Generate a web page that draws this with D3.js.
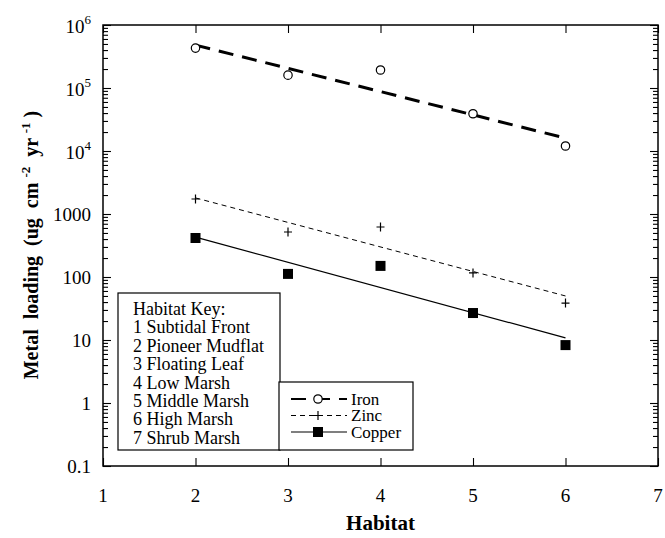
<!DOCTYPE html>
<html>
<head>
<meta charset="utf-8">
<script src="https://cdn.jsdelivr.net/npm/d3@7"></script>
<style>
  body { margin: 0; background: #fff; }
  svg { display: block; }
  text { font-family: "Liberation Serif", "Times New Roman", serif; fill: #000; white-space: pre; }
</style>
</head>
<body>
<svg id="chart" width="665" height="538"></svg>
<script>
// ---------------- data ----------------
const habitats = [2, 3, 4, 5, 6];
const iron   = [430000, 160000, 193000, 39000, 12000];
const zinc   = [1730, 518, 622, 116, 38.6];
const copper = [416, 112, 150, 26.8, 8.3];
// regression lines (endpoints at habitat 2 and 6)
const fitX      = [2, 6];
const ironFit   = [480000, 16000];
const zincFit   = [1800, 50];
const copperFit = [430, 10.8];

const xTickValues = [1, 2, 3, 4, 5, 6, 7];
const xTickLabels = ["1", "2", "3", "4", "5", "6", "7"];
const yTickValues = [0.1, 1, 10, 100, 1000, 1e4, 1e5, 1e6];
const yTickLabels = ["0.1", "1", "10", "100", "1000", "10^4", "10^5", "10^6"];

const keyLines = ["Habitat Key:", "1 Subtidal Front", "2 Pioneer Mudflat", "3 Floating Leaf",
                  "4 Low Marsh", "5 Middle Marsh", "6 High Marsh", "7 Shrub Marsh"];
const seriesNames = ["Iron", "Zinc", "Copper"];

// ---------------- layout ----------------
const L = 103, R = 658, T = 25, B = 466;
const svg = d3.select("#chart");
const x = d3.scaleLinear().domain([1, 7]).range([L, R]);
const y = d3.scaleLog().domain([0.1, 1e6]).range([B, T]);

// minor tick values
const minor = [];
for (let e = -1; e < 6; e++) for (let m = 2; m <= 9; m++) minor.push(m * Math.pow(10, e));

// axes (ticks inward)
const gL = svg.append("g").attr("transform", `translate(${L},0)`);
gL.call(d3.axisLeft(y).tickValues(yTickValues).tickSize(-8).tickFormat(""));
gL.append("g").call(d3.axisLeft(y).tickValues(minor).tickSize(-5).tickFormat(""));
const gR = svg.append("g").attr("transform", `translate(${R},0)`);
gR.call(d3.axisRight(y).tickValues(yTickValues).tickSize(-8).tickFormat(""));
gR.append("g").call(d3.axisRight(y).tickValues(minor).tickSize(-5).tickFormat(""));
const gB = svg.append("g").attr("transform", `translate(0,${B})`);
gB.call(d3.axisBottom(x).tickValues(xTickValues).tickSize(-8).tickFormat(""));
const gT = svg.append("g").attr("transform", `translate(0,${T})`);
gT.call(d3.axisTop(x).tickValues(xTickValues).tickSize(-8).tickFormat(""));
svg.selectAll(".domain").remove();
svg.selectAll(".tick line").attr("stroke", "#000").attr("stroke-width", 1.1);

// frame
svg.append("rect").attr("x", L).attr("y", T).attr("width", R - L).attr("height", B - T)
  .attr("fill", "none").attr("stroke", "#000").attr("stroke-width", 1.5);

// y tick labels
yTickValues.forEach((v, i) => {
  const lab = yTickLabels[i];
  const t = svg.append("text").attr("x", 91).attr("text-anchor", "end").attr("font-size", 19);
  if (lab.includes("^")) {
    const [base, exp] = lab.split("^");
    t.attr("y", y(v) + 8);
    t.append("tspan").text(base);
    t.append("tspan").attr("font-size", 13).attr("dy", -9).text(exp);
  } else {
    t.attr("y", y(v) + 7).text(lab);
  }
});

// x tick labels
xTickValues.forEach((v, i) => {
  svg.append("text").attr("x", x(v)).attr("y", 502).attr("text-anchor", "middle")
    .attr("font-size", 19).text(xTickLabels[i]);
});

// axis titles
svg.append("text").attr("x", x(4)).attr("y", 530).attr("text-anchor", "middle")
  .attr("font-size", 21).attr("font-weight", "bold").text("Habitat");

const yl = svg.append("text").attr("transform", "translate(38,245) rotate(-90)")
  .attr("text-anchor", "middle").attr("font-size", 20).attr("font-weight", "bold");
yl.append("tspan").text("Metal  loading  (ug  cm ");
yl.append("tspan").attr("font-size", 13).attr("dy", -8).text("-2");
yl.append("tspan").attr("dy", 8).text("  yr ");
yl.append("tspan").attr("font-size", 13).attr("dy", -8).text("-1");
yl.append("tspan").attr("dy", 8).text(" )");

// fit lines
const line = d3.line().x(d => x(d[0])).y(d => y(d[1]));
const fits = [
  { vals: ironFit,   dash: "15,9", w: 3 },
  { vals: zincFit,   dash: "5,4",  w: 1 },
  { vals: copperFit, dash: null,   w: 1.2 }
];
fits.forEach(f => {
  svg.append("path").datum(fitX.map((xv, i) => [xv, f.vals[i]]))
    .attr("d", line).attr("fill", "none").attr("stroke", "#000")
    .attr("stroke-width", f.w).attr("stroke-dasharray", f.dash);
});

// markers
function circleMark(g, cx, cy) {
  g.append("circle").attr("cx", cx).attr("cy", cy).attr("r", 4.2)
    .attr("fill", "#fff").attr("stroke", "#000").attr("stroke-width", 1.2);
}
function plusMark(g, cx, cy) {
  g.append("path").attr("d", `M${cx - 4},${cy}H${cx + 4}M${cx},${cy - 4.5}V${cy + 4.5}`)
    .attr("stroke", "#000").attr("stroke-width", 1.2);
}
function squareMark(g, cx, cy) {
  g.append("rect").attr("x", cx - 5).attr("y", cy - 5).attr("width", 10).attr("height", 10)
    .attr("fill", "#000");
}
const gm = svg.append("g");
habitats.forEach((h, i) => {
  circleMark(gm, x(h), y(iron[i]));
  plusMark(gm, x(h), y(zinc[i]));
  squareMark(gm, x(h), y(copper[i]));
});

// habitat key box
svg.append("rect").attr("x", 118).attr("y", 293).attr("width", 162).attr("height", 157)
  .attr("fill", "#fff").attr("stroke", "#000").attr("stroke-width", 1.2);
keyLines.forEach((s, i) => {
  svg.append("text").attr("x", 133).attr("y", 315 + i * 18.4).attr("font-size", 18).text(s);
});

// legend box
svg.append("rect").attr("x", 279).attr("y", 382).attr("width", 134).attr("height", 68)
  .attr("fill", "#fff").attr("stroke", "#000").attr("stroke-width", 1.2);
const legDash = ["15,9", "5,4", null];
const legW = [2, 1, 1.2];
const legMark = [circleMark, plusMark, squareMark];
seriesNames.forEach((s, i) => {
  const ly = 399 + i * 16.5;
  svg.append("line").attr("x1", 291).attr("x2", 347).attr("y1", ly).attr("y2", ly)
    .attr("stroke", "#000").attr("stroke-width", legW[i]).attr("stroke-dasharray", legDash[i]);
  legMark[i](svg, 318, ly);
  svg.append("text").attr("x", 351).attr("y", ly + 5.5).attr("font-size", 17).text(s);
});
</script>
</body>
</html>
